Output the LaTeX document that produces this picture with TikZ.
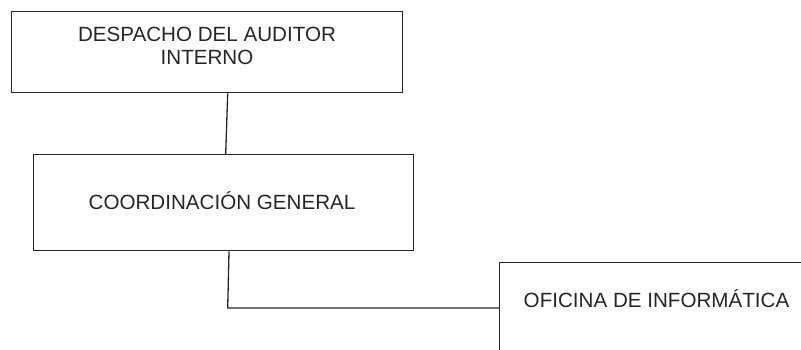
\documentclass[tikz,border=0pt]{standalone}
\usepackage{fontspec}
\setmainfont{Liberation Sans}
\begin{document}
\begin{tikzpicture}[x=1pt,y=-1pt,
  boxst/.style={draw=black!85,line width=1.4pt,rectangle,inner sep=0pt,anchor=north west},
  lbl/.style={inner sep=0pt,text=black!85,font=\fontsize{20.6}{23.3}\selectfont,align=center},
  conn/.style={draw=black!85,line width=1.3pt}]
\useasboundingbox (0,0) rectangle (801,349);
\clip (0,0) rectangle (801,349);
\node[boxst,minimum width=391pt,minimum height=81pt] (b1) at (11,11) {};
\node[boxst,minimum width=380pt,minimum height=96pt] (b2) at (33,154) {};
\node[boxst,minimum width=340pt,minimum height=120pt] (b3) at (499,262) {};
\node[lbl] (t1) at (207,46) {DESPACHO DEL AUDITOR\\INTERNO};
\node[lbl] (t2) at (222,201) {COORDINACIÓN GENERAL};
\node[lbl] (t3) at (656.5,299) {OFICINA DE INFORMÁTICA};
\coordinate (c1) at (b1.south -| 227.7,0);
\coordinate (c2) at (b2.north -| 225.7,0);
\draw[conn] (c1) -- (c2);
\coordinate (c3) at (b2.south -| 229,0);
\coordinate (c4) at (227.7,308);
\coordinate (c5) at (c4 -| b3.west);
\draw[conn] (c3) -- (c4) -- (c5);
\end{tikzpicture}
\end{document}
